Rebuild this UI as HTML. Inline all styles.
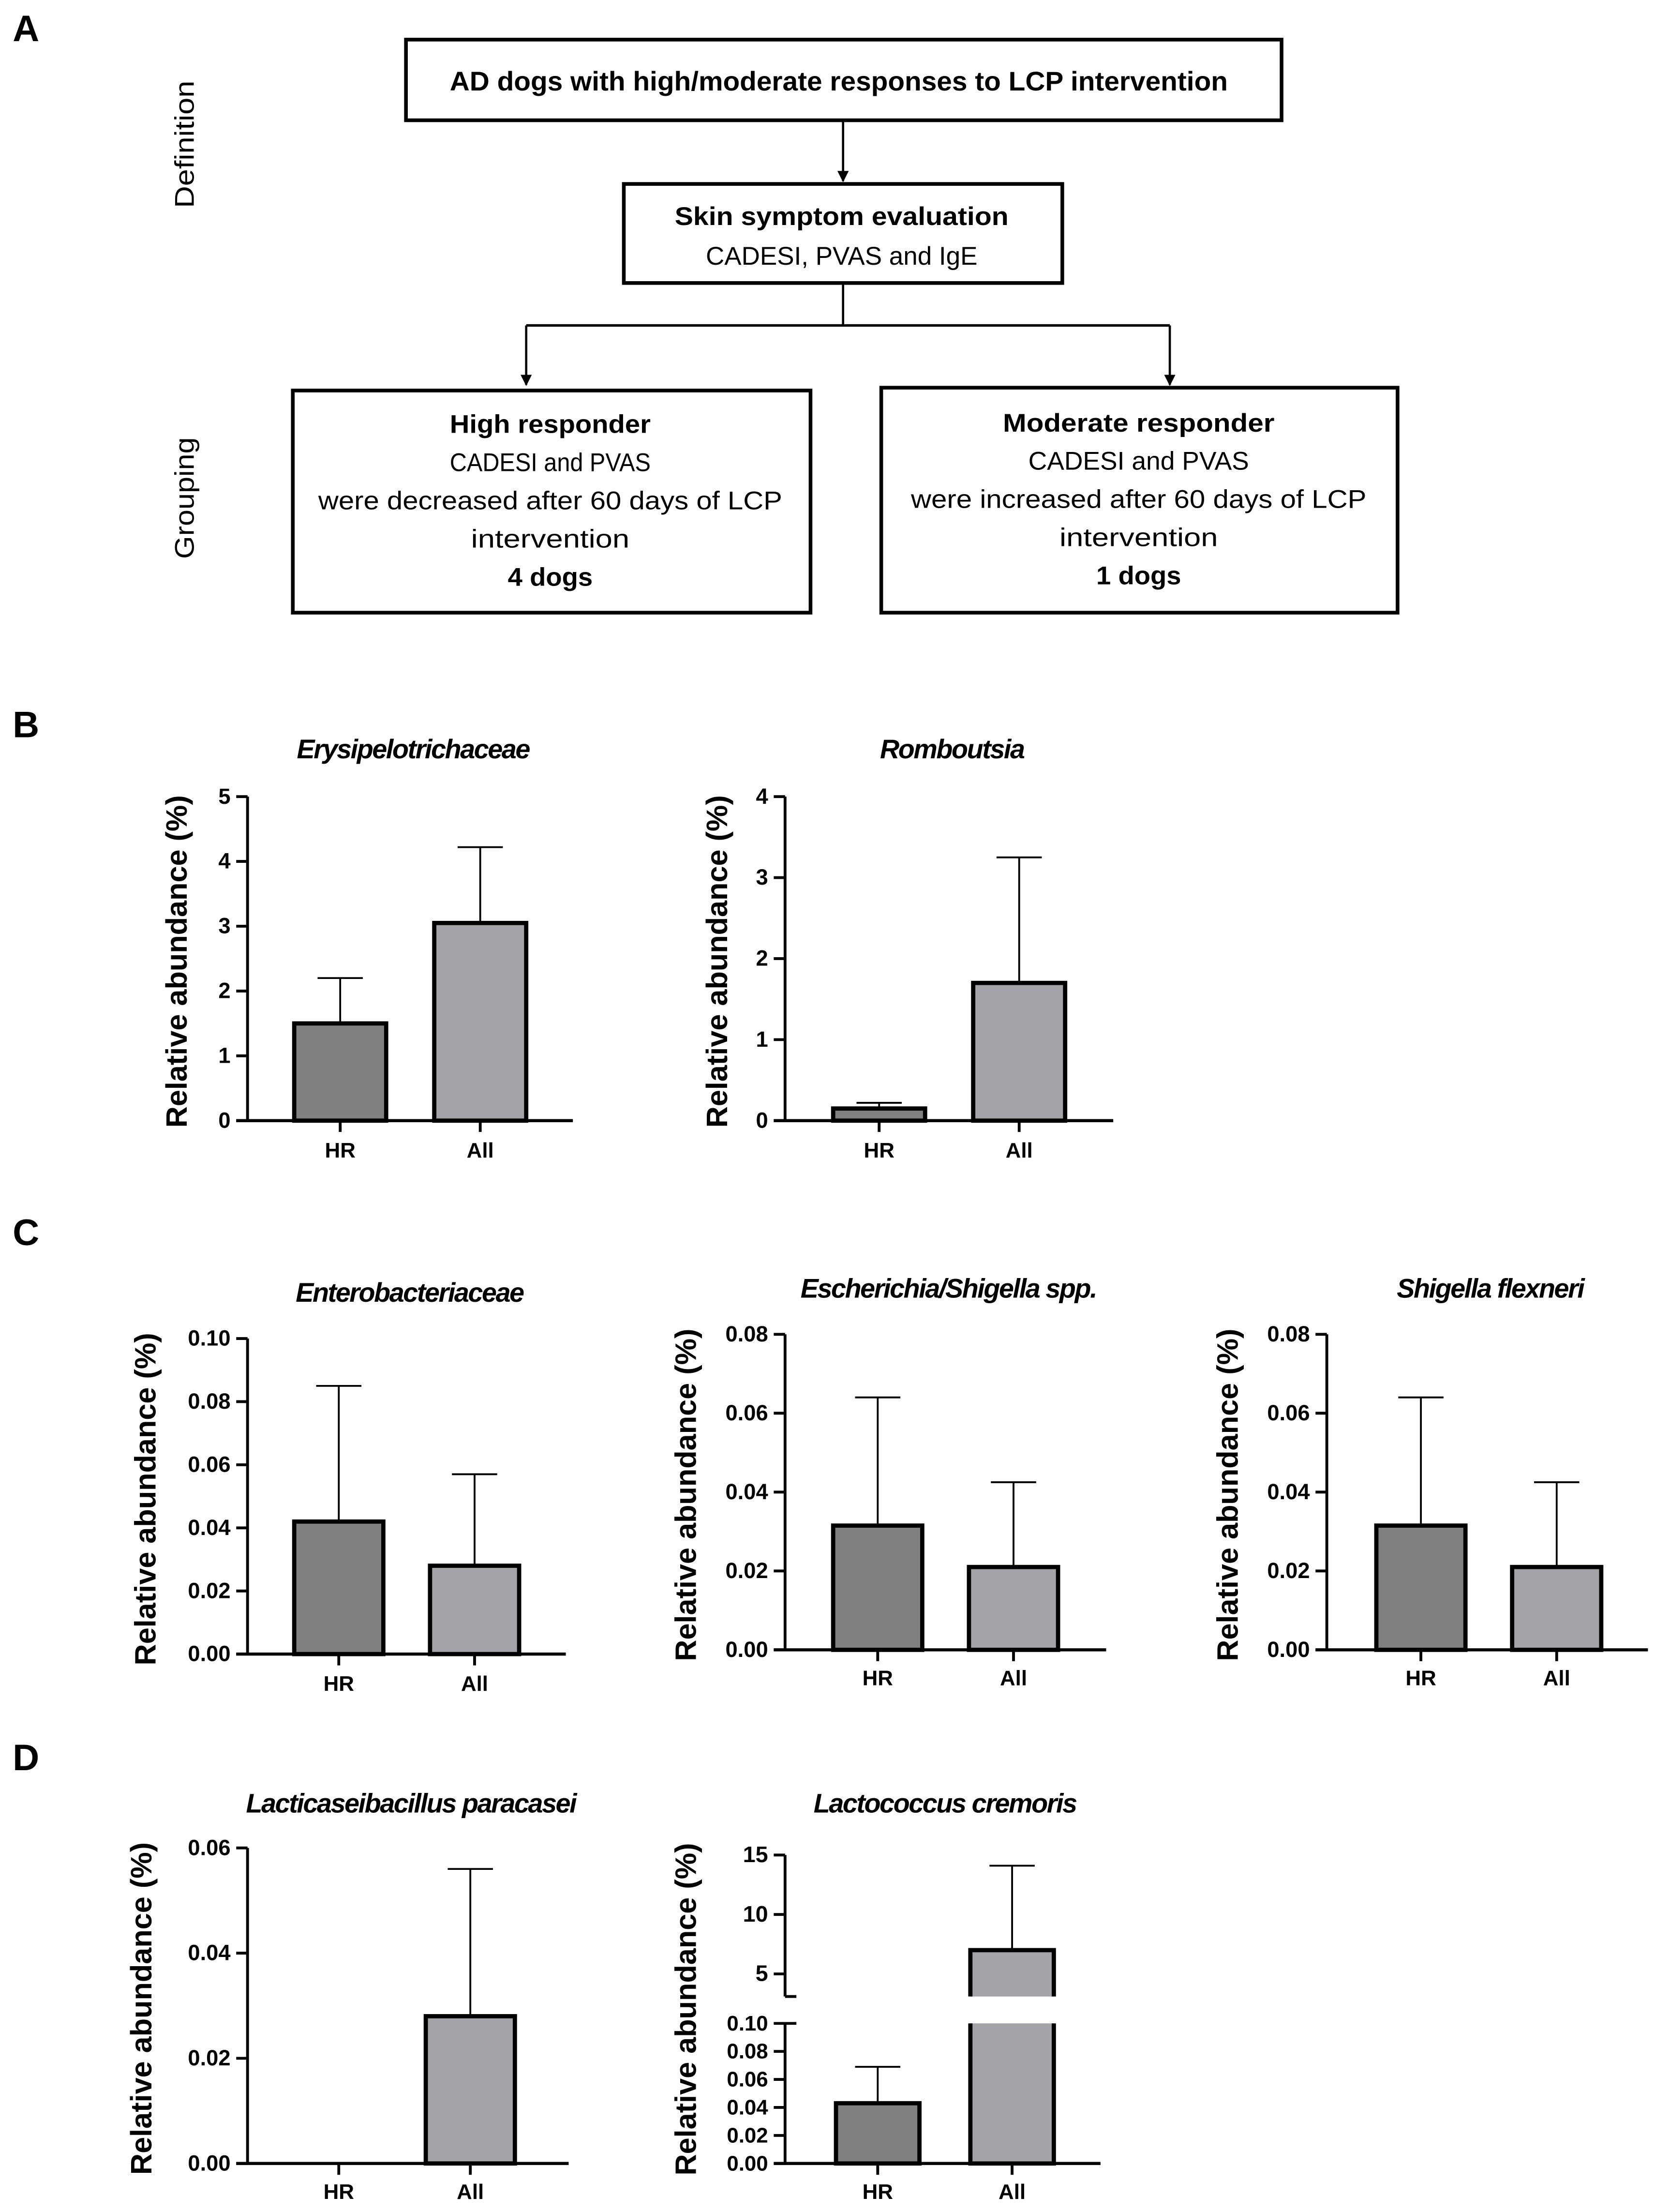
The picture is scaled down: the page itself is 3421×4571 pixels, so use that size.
<!DOCTYPE html>
<html><head><meta charset="utf-8"><style>
html,body{margin:0;padding:0;background:#fff}
svg{display:block}
.fl{font-family:"Liberation Sans Narrow","Liberation Sans",sans-serif;fill:#000}
.ch{font-family:"Liberation Sans Narrow","Liberation Sans",sans-serif;font-weight:bold;fill:#000}
.pl{font-family:"Liberation Sans",sans-serif;font-weight:bold;font-size:26px}
</style></head><body>
<svg id="fig" width="3421" height="4571" viewBox="0 0 1170 1563.3" preserveAspectRatio="none" xmlns="http://www.w3.org/2000/svg">
<defs><marker id="ah" viewBox="0 0 10 10" refX="9" refY="5" markerWidth="5" markerHeight="6" orient="auto"><path d="M0,0L10,5L0,10z" fill="#000"/></marker></defs>
<g stroke="#000" stroke-width="2.6" fill="none">
<rect x="287" y="28" width="619" height="57"/>
<rect x="441" y="130" width="310" height="70"/>
<rect x="207" y="276" width="366" height="157"/>
<rect x="623" y="274" width="365" height="159"/>
<line x1="596" y1="85" x2="596" y2="128" stroke-width="1.6" marker-end="url(#ah)"/>
<polyline points="596,200 596,230" stroke-width="1.6"/>
<line x1="372" y1="230" x2="827" y2="230" stroke-width="1.8"/>
<line x1="372" y1="230" x2="372" y2="272" stroke-width="1.6" marker-end="url(#ah)"/>
<line x1="827" y1="230" x2="827" y2="272" stroke-width="1.6" marker-end="url(#ah)"/>
</g>
<text class="pl" x="9" y="29">A</text>
<text class="fl" font-size="19" font-weight="bold" x="593" y="64" text-anchor="middle" textLength="550" lengthAdjust="spacingAndGlyphs">AD dogs with high/moderate responses to LCP intervention</text>
<text class="fl" font-size="18" font-weight="bold" x="595" y="159" text-anchor="middle" textLength="236" lengthAdjust="spacingAndGlyphs">Skin symptom evaluation</text>
<text class="fl" font-size="18" x="595" y="187" text-anchor="middle" textLength="192" lengthAdjust="spacingAndGlyphs">CADESI, PVAS and IgE</text>
<g class="fl" font-size="18" text-anchor="middle">
<text x="389" y="306" font-weight="bold" textLength="142" lengthAdjust="spacingAndGlyphs">High responder</text>
<text x="389" y="333" textLength="142" lengthAdjust="spacingAndGlyphs">CADESI and PVAS</text>
<text x="389" y="360" textLength="328" lengthAdjust="spacingAndGlyphs">were decreased after 60 days of LCP</text>
<text x="389" y="387" textLength="112" lengthAdjust="spacingAndGlyphs">intervention</text>
<text x="389" y="414" font-weight="bold" textLength="60" lengthAdjust="spacingAndGlyphs">4 dogs</text>
</g>
<g class="fl" font-size="18" text-anchor="middle">
<text x="805" y="305" font-weight="bold" textLength="192" lengthAdjust="spacingAndGlyphs">Moderate responder</text>
<text x="805" y="332" textLength="156" lengthAdjust="spacingAndGlyphs">CADESI and PVAS</text>
<text x="805" y="359" textLength="322" lengthAdjust="spacingAndGlyphs">were increased after 60 days of LCP</text>
<text x="805" y="386" textLength="112" lengthAdjust="spacingAndGlyphs">intervention</text>
<text x="805" y="413" font-weight="bold" textLength="60" lengthAdjust="spacingAndGlyphs">1 dogs</text>
</g>
<text class="fl" font-size="19" transform="translate(137,102) rotate(-90)" text-anchor="middle" textLength="90" lengthAdjust="spacingAndGlyphs">Definition</text>
<text class="fl" font-size="19" transform="translate(137,352) rotate(-90)" text-anchor="middle" textLength="86" lengthAdjust="spacingAndGlyphs">Grouping</text>
<text class="pl" x="9" y="521">B</text>
<text class="pl" x="9" y="880">C</text>
<text class="pl" x="9" y="1251">D</text>
<g id="charts"></g>
</svg>
<script>
const categories = ["HR","All"];
const titles = ["Erysipelotrichaceae","Romboutsia","Enterobacteriaceae","Escherichia/Shigella spp.","Shigella flexneri","Lacticaseibacillus paracasei"];
const meanValues = [[1.5,3.05],[0.15,1.7],[0.042,0.028],[0.0315,0.021],[0.0315,0.021],[0,0.028]];
const errValues = [[2.2,4.22],[0.22,3.25],[0.085,0.057],[0.064,0.0425],[0.064,0.0425],[0,0.056]];
const yMax = [5,4,0.10,0.08,0.08,0.06];
const tickLabels = [["0","1","2","3","4","5"],["0","1","2","3","4"],["0.00","0.02","0.04","0.06","0.08","0.10"],["0.00","0.02","0.04","0.06","0.08"],["0.00","0.02","0.04","0.06","0.08"],["0.00","0.02","0.04","0.06"]];
const lactoTitle = "Lactococcus cremoris";
const lactoMeans = [0.043,7.0];
const lactoErrs = [0.069,14.1];
const lactoLowTicks = ["0.00","0.02","0.04","0.06","0.08","0.10"];
const lactoHighTicks = ["5","10","15"];

const NS="http://www.w3.org/2000/svg";
const root=document.getElementById('charts');
function mk(tag,attrs,parent){const e=document.createElementNS(NS,tag);for(const k in attrs)e.setAttribute(k,attrs[k]);(parent||root).appendChild(e);return e;}
const layouts=[
 {ax:175,top:563,zero:792,xend:405,bars:[208,307],bw:65,ty:529,yl:124,cy:818},
 {ax:555,top:563,zero:792,xend:787,bars:[589,688],bw:65,ty:529,yl:506,cy:818},
 {ax:175,top:946,zero:1169,xend:400,bars:[208,304],bw:63,ty:913,yl:102,cy:1195},
 {ax:555,top:943,zero:1166,xend:782,bars:[589,685],bw:63,ty:910,yl:484,cy:1191},
 {ax:938,top:943,zero:1166,xend:1165,bars:[973,1069],bw:63,ty:910,yl:867,cy:1191},
 {ax:175,top:1306,zero:1529,xend:402,bars:[208,301],bw:63,ty:1274,yl:99,cy:1554}
];
const fills=["#808080","#a3a3a8"];
function ylabel(g,x,cy){const t=mk('text',{class:'ch','font-size':21,transform:`translate(${x},${cy}) rotate(-90)`,'text-anchor':'middle',textLength:235,lengthAdjust:'spacingAndGlyphs'},g);t.textContent='Relative abundance (%)';
 
 }
function title(g,x,y,s){const t=mk('text',{class:'ch','font-size':19,'font-style':'italic','font-weight':'bold',x:x,y:y,'text-anchor':'middle','letter-spacing':'-0.8'},g);t.textContent=s;
 
 }
function catlabels(g,L,cx,cy){categories.forEach((c,i)=>{const t=mk('text',{class:'ch','font-size':15,x:cx[i],y:cy,'text-anchor':'middle'},g);t.textContent=c;
 
 });}
layouts.forEach((L,ci)=>{
 const g=mk('g',{});
 
 
 const y=v=>L.zero-(v/yMax[ci])*(L.zero-L.top);
 const ticks=tickLabels[ci];
 mk('line',{x1:L.ax,y1:L.top,x2:L.ax,y2:L.zero,stroke:'#000','stroke-width':2},g);
 mk('line',{x1:L.ax-8,y1:L.zero,x2:L.xend,y2:L.zero,stroke:'#000','stroke-width':2.2},g);
 ticks.forEach((lab,i)=>{const v=yMax[ci]*i/(ticks.length-1);const yy=y(v);
  mk('line',{x1:L.ax-8,y1:yy,x2:L.ax,y2:yy,stroke:'#000','stroke-width':2},g);
  const t=mk('text',{class:'ch','font-size':15.5,x:L.ax-12,y:yy+5,'text-anchor':'end'},g);t.textContent=lab;
  
  });
 const cx=L.bars.map(b=>b+L.bw/2);
 categories.forEach((c,i)=>{
  mk('line',{x1:cx[i],y1:L.zero,x2:cx[i],y2:L.zero+8,stroke:'#000','stroke-width':2},g);
  const m=meanValues[ci][i],e=errValues[ci][i];
  if(m>0){
   mk('line',{x1:cx[i],y1:y(m),x2:cx[i],y2:y(e),stroke:'#000','stroke-width':1.3},g);
   mk('line',{x1:cx[i]-16,y1:y(e),x2:cx[i]+16,y2:y(e),stroke:'#000','stroke-width':1.3},g);
   const r=mk('rect',{x:L.bars[i],y:y(m),width:L.bw,height:L.zero-y(m),fill:fills[i],stroke:'#000','stroke-width':3},g);
   
   
  }
 });
 catlabels(g,L,cx,L.cy);
 title(g,(L.ax+L.xend)/2+2,L.ty+7,titles[ci]);
 ylabel(g,L.yl+8,(L.top+L.zero)/2+2);
});
(function(){
 const g=mk('g',{});
 
 
 const ax=555,zero=1529,lowTop=1430,hiBot=1411,xend=778;
 const lowMax=0.10, hiMin=3.1, hiMax=15, hi15=1311;
 const yl=v=>zero-(v/lowMax)*(zero-lowTop);
 const yh=v=>hiBot-((v-hiMin)/(hiMax-hiMin))*(hiBot-hi15);
 const y=v=>v<=lowMax?yl(v):(v>=hiMin?yh(v):null);
 mk('line',{x1:ax,y1:lowTop,x2:ax,y2:zero,stroke:'#000','stroke-width':2},g);
 mk('line',{x1:ax,y1:hi15,x2:ax,y2:hiBot,stroke:'#000','stroke-width':2},g);
 mk('line',{x1:ax,y1:lowTop,x2:ax+8,y2:lowTop,stroke:'#000','stroke-width':2},g);
 mk('line',{x1:ax,y1:hiBot,x2:ax+8,y2:hiBot,stroke:'#000','stroke-width':2},g);
 mk('line',{x1:ax-8,y1:zero,x2:xend,y2:zero,stroke:'#000','stroke-width':2.2},g);
 lactoLowTicks.forEach((lab,i)=>{const yy=yl(lowMax*i/(lactoLowTicks.length-1));
  mk('line',{x1:ax-8,y1:yy,x2:ax,y2:yy,stroke:'#000','stroke-width':2},g);
  const t=mk('text',{class:'ch','font-size':15,x:ax-12,y:yy+5,'text-anchor':'end'},g);t.textContent=lab;
  
  });
 lactoHighTicks.forEach(lab=>{const yy=yh(parseFloat(lab));
  mk('line',{x1:ax-8,y1:yy,x2:ax,y2:yy,stroke:'#000','stroke-width':2},g);
  const t=mk('text',{class:'ch','font-size':16,x:ax-12,y:yy+5,'text-anchor':'end','font-weight':'normal'},g);t.textContent=lab;
  
  });
 const bars=[591,686],bw=59,cx=bars.map(b=>b+bw/2);
 categories.forEach((c,i)=>{
  mk('line',{x1:cx[i],y1:zero,x2:cx[i],y2:zero+8,stroke:'#000','stroke-width':2},g);
  const m=lactoMeans[i],e=lactoErrs[i];
  mk('line',{x1:cx[i],y1:y(m),x2:cx[i],y2:y(e),stroke:'#000','stroke-width':1.3},g);
  mk('line',{x1:cx[i]-16,y1:y(e),x2:cx[i]+16,y2:y(e),stroke:'#000','stroke-width':1.3},g);
  let r;
  if(m<=lowMax){
   r=mk('rect',{x:bars[i],y:yl(m),width:bw,height:zero-yl(m),fill:fills[i],stroke:'#000','stroke-width':3},g);
  } else {
   r=mk('g',{},g);
   mk('rect',{x:bars[i],y:lowTop,width:bw,height:zero-lowTop,fill:fills[i]},r);
   mk('rect',{x:bars[i],y:yh(m),width:bw,height:hiBot-yh(m),fill:fills[i]},r);
   mk('path',{d:`M${bars[i]},${lowTop}L${bars[i]},${zero}L${bars[i]+bw},${zero}L${bars[i]+bw},${lowTop}M${bars[i]},${hiBot}L${bars[i]},${yh(m)}L${bars[i]+bw},${yh(m)}L${bars[i]+bw},${hiBot}`,fill:'none',stroke:'#000','stroke-width':3},r);
  }
  
  
 });
 catlabels(g,null,cx,1554);
 title(g,668,1281,lactoTitle);
 ylabel(g,492,1420);
})();
</script>
</body></html>
